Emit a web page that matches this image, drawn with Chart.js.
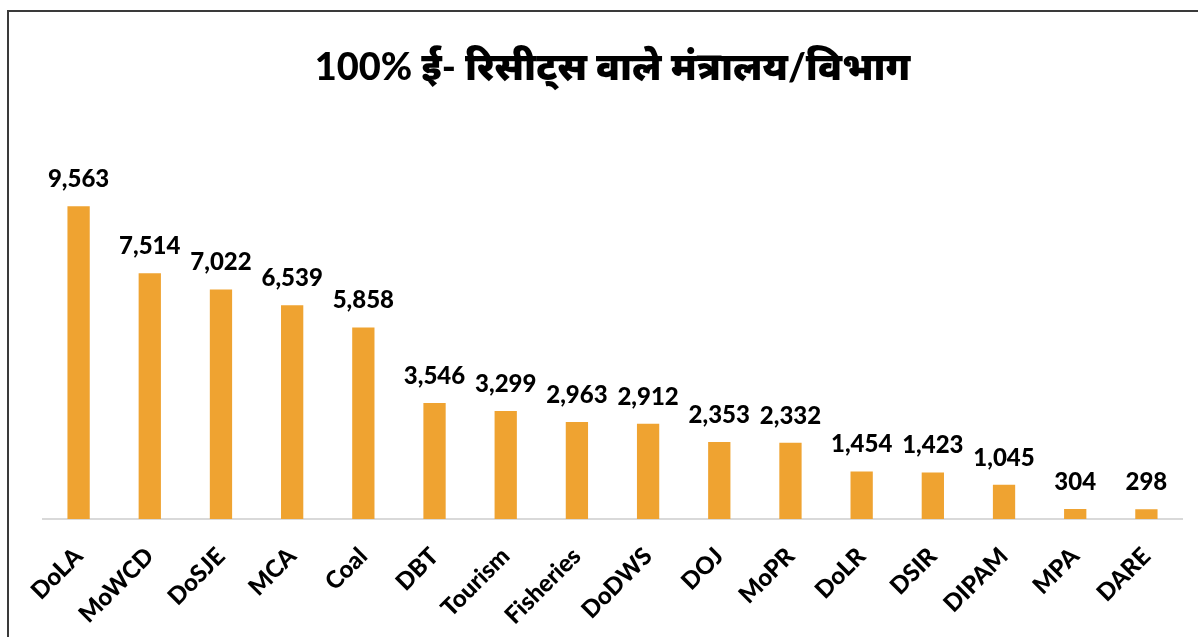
<!DOCTYPE html>
<html>
<head>
<meta charset="utf-8">
<script src="https://cdn.jsdelivr.net/npm/chart.js@4.4.1/dist/chart.umd.min.js"></script>
<style>
  html, body { margin: 0; padding: 0; background: #ffffff; }
  #wrap { width: 1198px; height: 637px; position: relative; }
</style>
</head>
<body>
<div id="wrap"><canvas id="c" width="1198" height="637"></canvas></div>
<script>
const titleText = '100% ई- रिसीट्स वाले मंत्रालय/विभाग';
const categories = ['DoLA', 'MoWCD', 'DoSJE', 'MCA', 'Coal', 'DBT', 'Tourism', 'Fisheries', 'DoDWS', 'DOJ', 'MoPR', 'DoLR', 'DSIR', 'DIPAM', 'MPA', 'DARE'];
const receipts = [9563, 7514, 7022, 6539, 5858, 3546, 3299, 2963, 2912, 2353, 2332, 1454, 1423, 1045, 304, 298];

const frameLines = {
  id: 'frameLines',
  beforeDraw(chart) {
    const ctx = chart.ctx;
    ctx.save();
    ctx.strokeStyle = '#3a3a3a';
    ctx.lineWidth = 2;
    ctx.beginPath();
    ctx.moveTo(8, 637);
    ctx.lineTo(8, 11);
    ctx.lineTo(1198, 11);
    ctx.stroke();
    ctx.restore();
  }
};

const valueLabels = {
  id: 'valueLabels',
  afterDatasetsDraw(chart) {
    const ctx = chart.ctx;
    const meta = chart.getDatasetMeta(0);
    ctx.save();
    ctx.font = '900 24px Lato, "Open Sans", sans-serif';
    ctx.fillStyle = '#000000';
    ctx.textAlign = 'center';
    ctx.textBaseline = 'alphabetic';
    meta.data.forEach((bar, i) => {
      ctx.fillText(receipts[i].toLocaleString('en-US'), bar.x, bar.y - 19);
    });
    ctx.restore();
  }
};

new Chart(document.getElementById('c'), {
  type: 'bar',
  data: {
    labels: categories,
    datasets: [{
      data: receipts,
      backgroundColor: '#EFA331',
      borderWidth: 0,
      barPercentage: 0.62,
      categoryPercentage: 0.505
    }]
  },
  options: {
    responsive: false,
    animation: false,
    layout: { padding: { left: 43, right: 16, top: 0, bottom: 0 } },
    plugins: {
      legend: { display: false },
      tooltip: { enabled: false },
      title: {
        display: true,
        text: titleText,
        color: '#000000',
        font: { family: 'Lato, "Noto Sans", sans-serif', size: 38, weight: '900' },
        padding: { top: 45, bottom: 36 }
      }
    },
    scales: {
      x: {
        grid: { display: false, drawTicks: false },
        border: { display: true, color: '#d9d9d9', width: 2 },
        ticks: {
          color: '#000000',
          font: { family: 'Lato, "Open Sans", sans-serif', size: 24, weight: '900' },
          maxRotation: 45,
          minRotation: 45,
          padding: 23,
          autoSkip: false
        },
        afterFit(scale) { scale.height = 118; }
      },
      y: {
        display: false,
        min: 0,
        max: 12000
      }
    }
  },
  plugins: [frameLines, valueLabels]
});
</script>
</body>
</html>
